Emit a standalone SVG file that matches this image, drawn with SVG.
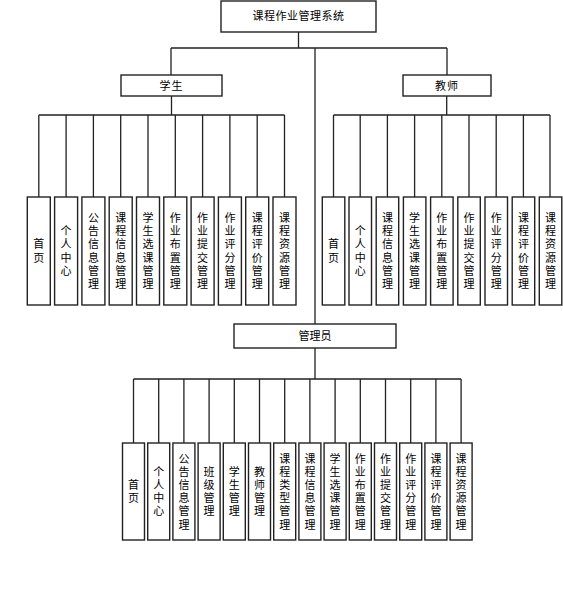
<svg xmlns="http://www.w3.org/2000/svg" width="563" height="590" viewBox="0 0 563 590">
<style>
.box{fill:#fff;stroke:#222;stroke-width:1.4}
.ln{fill:none;stroke:#222;stroke-width:1.3}
text{font-family:"Noto Sans CJK SC","Liberation Sans",sans-serif;font-size:11px;fill:#000;text-anchor:middle}
.v{writing-mode:vertical-rl;letter-spacing:2.2px}
</style>
<rect width="563" height="590" fill="#fff"/>
<g id="connectors" class="ln">
<path d="M298.5,32V48M171,48H447M315,48V324M171,48V75M447,48V75"/>
<path d="M171.5,96V115M38.8,115H284.5M38.8,115V197M66.1,115V197M93.4,115V197M120.7,115V197M148,115V197M175.3,115V197M202.6,115V197M229.9,115V197M257.2,115V197M284.5,115V197"/>
<path d="M446.7,96V115M333.5,115H550M333.5,115V197M360.2,115V197M387.4,115V197M414.6,115V197M441.8,115V197M469,115V197M496.2,115V197M523.4,115V197M550,115V197"/>
<path d="M315,348V379M133.5,379H461.1M133.5,379V443M158.7,379V443M183.9,379V443M209.1,379V443M234.3,379V443M259.5,379V443M284.7,379V443M309.9,379V443M335.1,379V443M360.3,379V443M385.5,379V443M410.7,379V443M435.9,379V443M461.1,379V443"/>
</g>
<g id="root"><rect class="box" x="221" y="1" width="155" height="31"/><text x="298.5" y="20" letter-spacing="0.5">课程作业管理系统</text></g>
<g id="student"><rect class="box" x="121" y="75" width="101" height="21"/><text x="171.5" y="89.5" letter-spacing="1">学生</text></g>
<g id="teacher"><rect class="box" x="403" y="75" width="88" height="21"/><text x="447" y="89.5" letter-spacing="1">教师</text></g>
<g id="admin"><rect class="box" x="234" y="324" width="162" height="24"/><text x="315" y="340">管理员</text></g>

<g id="s1"><rect class="box" x="27.3" y="197" width="23" height="108"/><text class="v" x="38.8" y="252">首页</text></g>
<g id="s2"><rect class="box" x="54.6" y="197" width="23" height="108"/><text class="v" x="66.1" y="252">个人中心</text></g>
<g id="s3"><rect class="box" x="81.9" y="197" width="23" height="108"/><text class="v" x="93.4" y="252">公告信息管理</text></g>
<g id="s4"><rect class="box" x="109.2" y="197" width="23" height="108"/><text class="v" x="120.7" y="252">课程信息管理</text></g>
<g id="s5"><rect class="box" x="136.5" y="197" width="23" height="108"/><text class="v" x="148" y="252">学生选课管理</text></g>
<g id="s6"><rect class="box" x="163.8" y="197" width="23" height="108"/><text class="v" x="175.3" y="252">作业布置管理</text></g>
<g id="s7"><rect class="box" x="191.1" y="197" width="23" height="108"/><text class="v" x="202.6" y="252">作业提交管理</text></g>
<g id="s8"><rect class="box" x="218.4" y="197" width="23" height="108"/><text class="v" x="229.9" y="252">作业评分管理</text></g>
<g id="s9"><rect class="box" x="245.7" y="197" width="23" height="108"/><text class="v" x="257.2" y="252">课程评价管理</text></g>
<g id="s10"><rect class="box" x="273" y="197" width="23" height="108"/><text class="v" x="284.5" y="252">课程资源管理</text></g>

<g id="t1"><rect class="box" x="322.3" y="197" width="22.5" height="108"/><text class="v" x="333.5" y="252">首页</text></g>
<g id="t2"><rect class="box" x="349" y="197" width="22.5" height="108"/><text class="v" x="360.2" y="252">个人中心</text></g>
<g id="t3"><rect class="box" x="376.2" y="197" width="22.5" height="108"/><text class="v" x="387.4" y="252">课程信息管理</text></g>
<g id="t4"><rect class="box" x="403.4" y="197" width="22.5" height="108"/><text class="v" x="414.6" y="252">学生选课管理</text></g>
<g id="t5"><rect class="box" x="430.6" y="197" width="22.5" height="108"/><text class="v" x="441.8" y="252">作业布置管理</text></g>
<g id="t6"><rect class="box" x="457.8" y="197" width="22.5" height="108"/><text class="v" x="469" y="252">作业提交管理</text></g>
<g id="t7"><rect class="box" x="485" y="197" width="22.5" height="108"/><text class="v" x="496.2" y="252">作业评分管理</text></g>
<g id="t8"><rect class="box" x="512.2" y="197" width="22.5" height="108"/><text class="v" x="523.4" y="252">课程评价管理</text></g>
<g id="t9"><rect class="box" x="539.3" y="197" width="22.5" height="108"/><text class="v" x="550.5" y="252">课程资源管理</text></g>

<g id="a1"><rect class="box" x="122.5" y="443" width="22" height="97"/><text class="v" x="133.5" y="492.5">首页</text></g>
<g id="a2"><rect class="box" x="147.7" y="443" width="22" height="97"/><text class="v" x="158.7" y="492.5">个人中心</text></g>
<g id="a3"><rect class="box" x="172.9" y="443" width="22" height="97"/><text class="v" x="183.9" y="492.5">公告信息管理</text></g>
<g id="a4"><rect class="box" x="198.1" y="443" width="22" height="97"/><text class="v" x="209.1" y="492.5">班级管理</text></g>
<g id="a5"><rect class="box" x="223.3" y="443" width="22" height="97"/><text class="v" x="234.3" y="492.5">学生管理</text></g>
<g id="a6"><rect class="box" x="248.5" y="443" width="22" height="97"/><text class="v" x="259.5" y="492.5">教师管理</text></g>
<g id="a7"><rect class="box" x="273.7" y="443" width="22" height="97"/><text class="v" x="284.7" y="492.5">课程类型管理</text></g>
<g id="a8"><rect class="box" x="298.9" y="443" width="22" height="97"/><text class="v" x="309.9" y="492.5">课程信息管理</text></g>
<g id="a9"><rect class="box" x="324.1" y="443" width="22" height="97"/><text class="v" x="335.1" y="492.5">学生选课管理</text></g>
<g id="a10"><rect class="box" x="349.3" y="443" width="22" height="97"/><text class="v" x="360.3" y="492.5">作业布置管理</text></g>
<g id="a11"><rect class="box" x="374.5" y="443" width="22" height="97"/><text class="v" x="385.5" y="492.5">作业提交管理</text></g>
<g id="a12"><rect class="box" x="399.7" y="443" width="22" height="97"/><text class="v" x="410.7" y="492.5">作业评分管理</text></g>
<g id="a13"><rect class="box" x="424.9" y="443" width="22" height="97"/><text class="v" x="435.9" y="492.5">课程评价管理</text></g>
<g id="a14"><rect class="box" x="450.1" y="443" width="22" height="97"/><text class="v" x="461.1" y="492.5">课程资源管理</text></g>
</svg>
